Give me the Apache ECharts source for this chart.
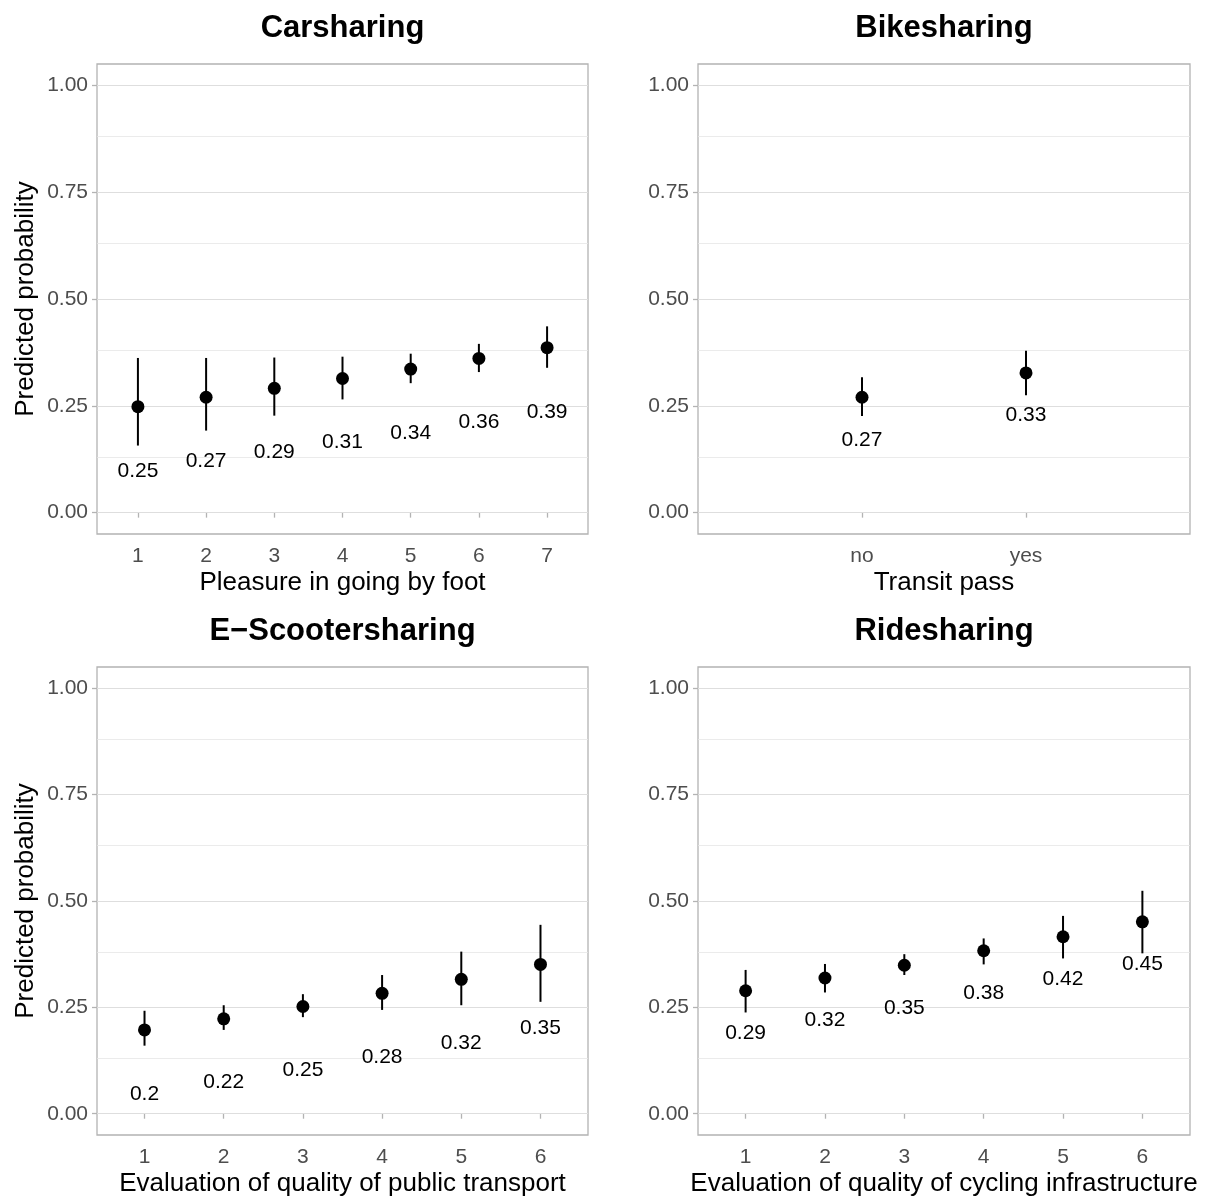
<!DOCTYPE html>
<html>
<head>
<meta charset="utf-8">
<script src="https://cdn.jsdelivr.net/npm/echarts@6/dist/echarts.min.js"></script>
<style>
  html, body { margin: 0; padding: 0; background: #fff; }
  #main { width: 1210px; height: 1201px; }
</style>
</head>
<body>
<div id="main"></div>
<script>
// panel titles / axis titles
const panelTitles = ['Carsharing', 'Bikesharing', 'E\u2212Scootersharing', 'Ridesharing'];
const xTitles = ['Pleasure in going by foot', 'Transit pass',
  'Evaluation of quality of public transport', 'Evaluation of quality of cycling infrastructure'];
const yTicks = [0, 0.25, 0.5, 0.75, 1];
const yMinor = [0.125, 0.375, 0.625, 0.875];

// Carsharing
const carX = [1, 2, 3, 4, 5, 6, 7];
const carPred = [0.248, 0.270, 0.291, 0.314, 0.336, 0.361, 0.386];
const carLo = [0.157, 0.192, 0.227, 0.265, 0.303, 0.329, 0.339];
const carHi = [0.362, 0.362, 0.363, 0.365, 0.372, 0.395, 0.436];

// Bikesharing
const bikeCats = ['no', 'yes'];
const bikeX = [1, 2];
const bikePred = [0.270, 0.327];
const bikeLo = [0.226, 0.275];
const bikeHi = [0.317, 0.379];

// E-Scootersharing
const scootX = [1, 2, 3, 4, 5, 6];
const scootPred = [0.197, 0.223, 0.252, 0.283, 0.316, 0.351];
const scootLo = [0.160, 0.197, 0.227, 0.244, 0.255, 0.263];
const scootHi = [0.242, 0.255, 0.281, 0.326, 0.381, 0.444];

// Ridesharing
const rideX = [1, 2, 3, 4, 5, 6];
const ridePred = [0.289, 0.319, 0.349, 0.383, 0.416, 0.451];
const rideLo = [0.238, 0.285, 0.326, 0.351, 0.365, 0.377];
const rideHi = [0.338, 0.352, 0.375, 0.412, 0.465, 0.524];

const labelOffset = [0.15, 0.10, 0.15, 0.10];

const FONT = '"Liberation Sans", Arial, Helvetica, sans-serif';

const panels = [
  { x: carX, pred: carPred, lo: carLo, hi: carHi, xmin: 0.4, xmax: 7.6 },
  { x: bikeX, pred: bikePred, lo: bikeLo, hi: bikeHi, xmin: 0, xmax: 3, cats: bikeCats },
  { x: scootX, pred: scootPred, lo: scootLo, hi: scootHi, xmin: 0.4, xmax: 6.6 },
  { x: rideX, pred: ridePred, lo: rideLo, hi: rideHi, xmin: 0.4, xmax: 6.6 }
];

const grids = [
  { left: 97, top: 64, width: 491, height: 470 },
  { left: 698, top: 64, width: 492, height: 470 },
  { left: 97, top: 667, width: 491, height: 468 },
  { left: 698, top: 667, width: 492, height: 468 }
];

var myChart = echarts.init(document.getElementById('main'));

var option = {
  backgroundColor: '#ffffff',
  animation: false,
  textStyle: { fontFamily: FONT },
  title: panelTitles.map(function (t, i) {
    var g = grids[i];
    return {
      text: t,
      left: g.left + g.width / 2,
      top: g.top - 51,
      textAlign: 'center',
      padding: 0,
      textStyle: { fontSize: 31, fontWeight: 'bold', color: '#000', fontFamily: FONT }
    };
  }),
  grid: grids.map(function (g) {
    return Object.assign({
      show: true,
      borderColor: '#b3b3b3',
      borderWidth: 1.3,
      backgroundColor: '#fff',
      containLabel: false,
      outerBoundsMode: 'none'
    }, g);
  }),
  xAxis: panels.map(function (p, i) {
    return {
      type: 'value',
      gridIndex: i,
      min: p.xmin,
      max: p.xmax,
      name: xTitles[i],
      nameLocation: 'middle',
      nameGap: 36,
      nameTextStyle: { fontSize: 26, color: '#000', fontFamily: FONT },
      axisLine: { show: false },
      axisTick: { show: true, length: 5, customValues: p.x, lineStyle: { color: '#b3b3b3', width: 1.3 } },
      axisLabel: {
        customValues: p.x,
        fontSize: 21,
        color: '#4d4d4d',
        margin: 12,
        formatter: function (v) { return p.cats ? p.cats[v - 1] : String(v); }
      },
      splitLine: { show: false }
    };
  }),
  yAxis: panels.map(function (p, i) {
    return {
      type: 'value',
      gridIndex: i,
      min: -0.05,
      max: 1.05,
      name: (i % 2 === 0) ? 'Predicted probability' : '',
      nameLocation: 'middle',
      nameGap: 58,
      nameTextStyle: { fontSize: 26, color: '#000', fontFamily: FONT },
      axisLine: { show: false },
      axisTick: { show: true, length: 5, customValues: yTicks, lineStyle: { color: '#b3b3b3', width: 1.3 } },
      axisLabel: {
        customValues: yTicks,
        fontSize: 21,
        color: '#4d4d4d',
        margin: 9,
        formatter: function (v) { return v.toFixed(2); }
      },
      splitLine: { show: false }
    };
  }),
  series: []
};

panels.forEach(function (p, i) {
  // grid lines
  option.series.push({
    type: 'line',
    xAxisIndex: i,
    yAxisIndex: i,
    data: [],
    silent: true,
    z: 1,
    markLine: {
      silent: true,
      z: 1,
      symbol: 'none',
      label: { show: false },
      animation: false,
      data: yTicks.map(function (v) {
        return { yAxis: v, lineStyle: { color: '#dedede', width: 1.2, type: 'solid' } };
      }).concat(yMinor.map(function (v) {
        return { yAxis: v, lineStyle: { color: '#e6e6e6', width: 0.8, type: 'solid' } };
      }))
    }
  });
  // error bars
  option.series.push({
    type: 'custom',
    xAxisIndex: i,
    yAxisIndex: i,
    data: p.x.map(function (x, k) { return [x, p.lo[k], p.hi[k]]; }),
    renderItem: function (params, api) {
      var a = api.coord([api.value(0), api.value(1)]);
      var b = api.coord([api.value(0), api.value(2)]);
      return {
        type: 'line',
        shape: { x1: a[0], y1: a[1], x2: b[0], y2: b[1] },
        style: { stroke: '#000', lineWidth: 2 }
      };
    },
    z: 6
  });
  // points
  option.series.push({
    type: 'scatter',
    xAxisIndex: i,
    yAxisIndex: i,
    symbol: 'circle',
    symbolSize: 13,
    itemStyle: { color: '#000', opacity: 1 },
    data: p.x.map(function (x, k) { return [x, p.pred[k]]; }),
    z: 7
  });
  // value labels
  option.series.push({
    type: 'custom',
    xAxisIndex: i,
    yAxisIndex: i,
    data: p.x.map(function (x, k) { return [x, p.pred[k] - labelOffset[i], p.pred[k]]; }),
    renderItem: function (params, api) {
      var c = api.coord([api.value(0), api.value(1)]);
      var txt = String(Math.round(api.value(2) * 100) / 100);
      return {
        type: 'text',
        style: {
          text: txt,
          x: c[0],
          y: c[1],
          align: 'center',
          verticalAlign: 'middle',
          fill: '#000',
          font: '21px ' + FONT
        }
      };
    },
    z: 8
  });
});

myChart.setOption(option);
</script>
</body>
</html>
